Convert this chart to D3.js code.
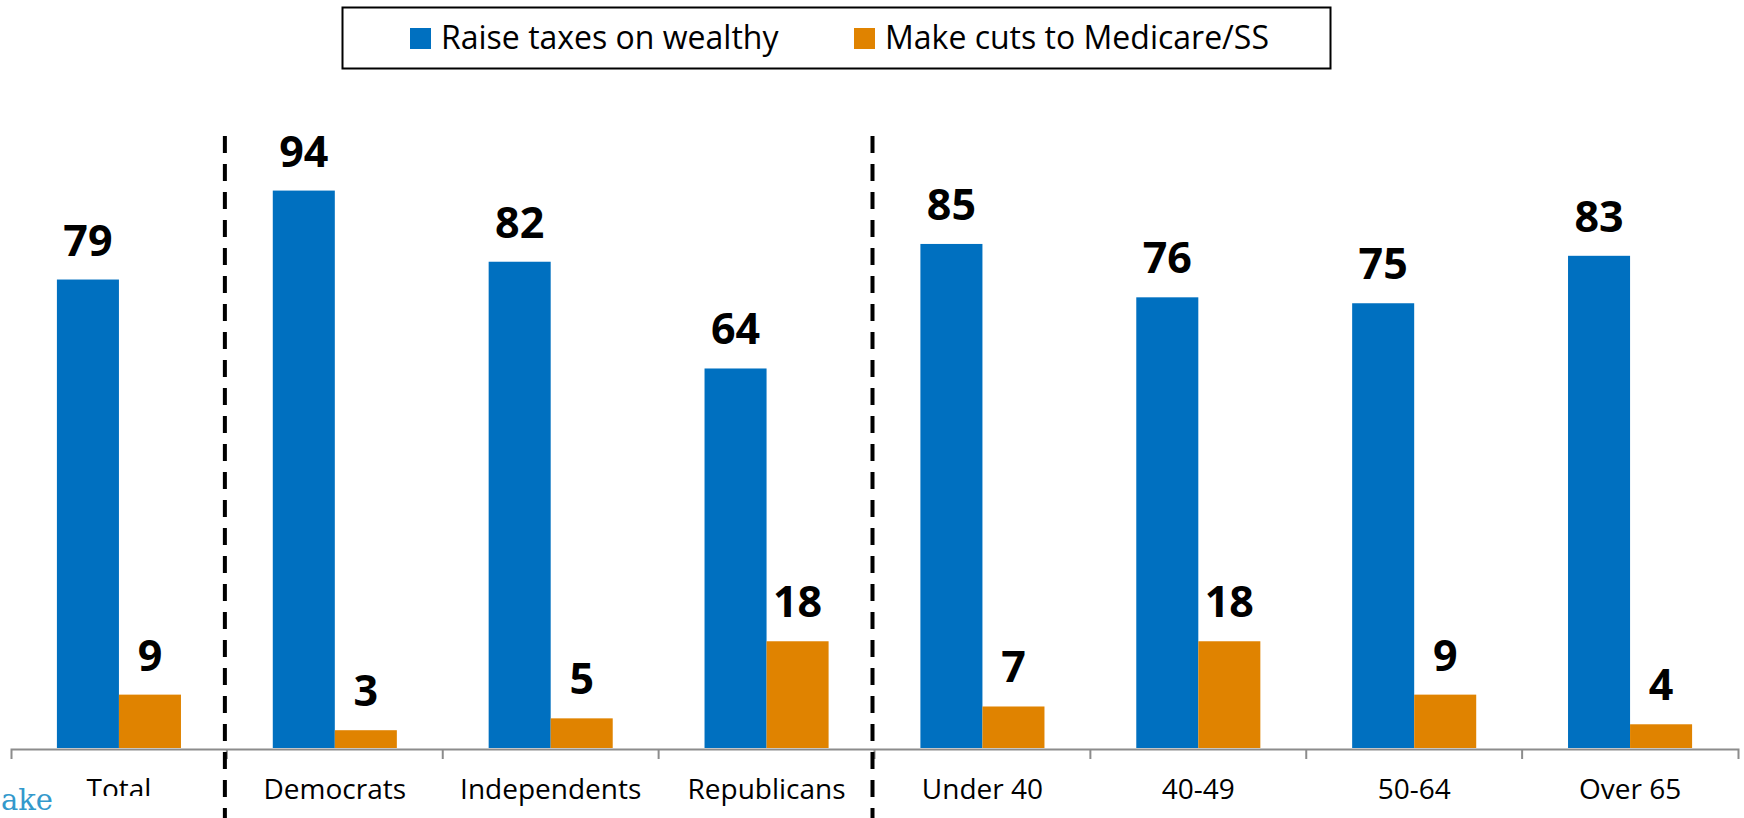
<!DOCTYPE html>
<html>
<head>
<meta charset="utf-8">
<script src="https://cdn.jsdelivr.net/npm/d3@7"></script>
<style>
  html, body { margin: 0; padding: 0; background: #fff; }
  svg { display: block; }
  text { font-family: "Open Sans", "Liberation Sans", sans-serif; }
  text.logo { font-family: "DejaVu Serif", "Liberation Serif", serif; }
</style>
</head>
<body>
<svg id="chart" width="1744" height="818"></svg>
<script>
// Survey groups and the share choosing each option (%)
const categories = ["Total", "Democrats", "Independents", "Republicans", "Under 40", "40-49", "50-64", "Over 65"];
const seriesNames = ["Raise taxes on wealthy", "Make cuts to Medicare/SS"];
const raiseTaxes = [79, 94, 82, 64, 85, 76, 75, 83];
const cutMedicare = [9, 3, 5, 18, 7, 18, 9, 4];
// Group boundaries marked with a dashed divider (after these categories)
const dividersAfter = ["Total", "Republicans"];

const colors = ["#0070C0", "#E08300"];
const seriesValues = [raiseTaxes, cutMedicare];

const svg = d3.select("#chart");
const W = 1744, H = 818;
const baseY = 748;

const x0 = d3.scaleBand().domain(categories).range([11, 1738]).paddingInner(0).paddingOuter(0);
const x1 = d3.scaleBand().domain(seriesNames).range([0, x0.bandwidth()]).paddingInner(0).paddingOuter(0.74);
const y = d3.scaleLinear().domain([0, 100]).range([baseY, baseY - 593]);

const rows = categories.map((c, i) => ({
  cat: c,
  vals: seriesNames.map((s, k) => ({ series: s, k, value: seriesValues[k][i] }))
}));

// Bars
const groups = svg.append("g").selectAll("g").data(rows).join("g")
  .attr("transform", d => `translate(${x0(d.cat)},0)`);

groups.selectAll("rect").data(d => d.vals).join("rect")
  .attr("x", d => x1(d.series))
  .attr("y", d => y(d.value))
  .attr("width", x1.bandwidth())
  .attr("height", d => baseY - y(d.value))
  .attr("fill", d => colors[d.k]);

// Value labels above each bar
groups.selectAll("text.val").data(d => d.vals).join("text")
  .attr("class", "val")
  .attr("x", d => x1(d.series) + x1.bandwidth() / 2)
  .attr("y", d => y(d.value) - 24)
  .attr("text-anchor", "middle")
  .attr("font-size", 43)
  .attr("font-weight", 700)
  .attr("fill", "#000")
  .text(d => d.value);

// Category axis with ticks at the band edges
const axis = d3.axisBottom(x0).tickSize(0).tickSizeOuter(10).tickPadding(0);
const gx = svg.append("g").attr("transform", `translate(0,${baseY + 1})`).call(axis);
gx.select(".domain").attr("stroke", "#8c8c8c").attr("stroke-width", 2);
gx.selectAll(".tick text")
  .attr("dy", null)
  .attr("y", 50)
  .attr("font-size", 28)
  .attr("font-family", null)
  .attr("fill", "#000");
gx.selectAll("line.edge").data(categories.slice(1)).join("line")
  .attr("class", "edge")
  .attr("x1", d => x0(d)).attr("x2", d => x0(d))
  .attr("y1", 0).attr("y2", 10)
  .attr("stroke", "#8c8c8c").attr("stroke-width", 2);

// Dashed group dividers
svg.append("g").selectAll("line").data(dividersAfter).join("line")
  .attr("x1", d => x0(d) + x0.bandwidth() - 2)
  .attr("x2", d => x0(d) + x0.bandwidth() - 2)
  .attr("y1", 136).attr("y2", H)
  .attr("stroke", "#000")
  .attr("stroke-width", 4)
  .attr("stroke-dasharray", "17 11");

// Logo fragment in the lower-left corner
svg.append("rect").attr("x", 0).attr("y", 796).attr("width", 205).attr("height", H - 796).attr("fill", "#fff");
svg.append("text")
  .attr("class", "logo")
  .attr("x", 1).attr("y", 810)
  .attr("font-size", 29)
  .attr("fill", "#3399cc")
  .text("ake");

// Legend
const legend = svg.append("g");
legend.append("rect")
  .attr("x", 342.5).attr("y", 7.5).attr("width", 988).attr("height", 61)
  .attr("fill", "#fff").attr("stroke", "#000").attr("stroke-width", 2);
const legendX = [410, 854];
const items = legend.selectAll("g").data(seriesNames).join("g")
  .attr("transform", (d, i) => `translate(${legendX[i]},28)`);
items.append("rect").attr("width", 21).attr("height", 21).attr("fill", (d, i) => colors[i]);
items.append("text")
  .attr("x", 31).attr("y", 21)
  .attr("font-size", 32)
  .attr("fill", "#000")
  .text(d => d);
</script>
</body>
</html>
